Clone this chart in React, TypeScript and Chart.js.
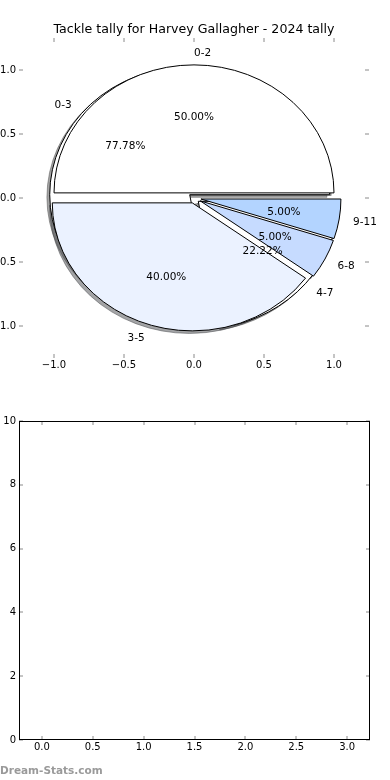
import React, { useEffect, useRef } from 'react';
import { Chart, registerables } from 'chart.js';

Chart.register(...registerables);

// ---- data ----
const TITLE = 'Tackle tally for Harvey Gallagher - 2024 tally';
const INNER_LABELS = ['0-3', '4-7'];
const INNER_VALUES = [77.78, 22.22];
const OUTER_LABELS = ['0-2', '3-5', '6-8', '9-11'];
const OUTER_VALUES = [50, 40, 5, 5];
const PIE_TICKS = [-1, -0.5, 0, 0.5, 1];
const EMPTY_X_TICKS = [0, 0.5, 1, 1.5, 2, 2.5, 3];
const EMPTY_Y_TICKS = [0, 2, 4, 6, 8, 10];
const WATERMARK = 'Dream-Stats.com';

// ---- styles ----
const INNER_STYLE = { colors: ['#ffffff', '#ffffff'], explode: [0.04, 0.04] };
const OUTER_STYLE = {
  colors: ['#ffffff', '#ebf2ff', '#c6dbff', '#b3d4ff'],
  explode: [0.04, 0.04, 0.05, 0.05],
};
const FONT = 'DejaVu Sans';

function shadowOf(hex: string) {
  const n = parseInt(hex.slice(1), 16);
  const r = ((n >> 16) & 255) * 0.3;
  const g = ((n >> 8) & 255) * 0.3;
  const b = (n & 255) * 0.3;
  return `rgba(${r.toFixed(0)},${g.toFixed(0)},${b.toFixed(0)},0.5)`;
}

const piePlugin = {
  id: 'pies',
  afterDatasetsDraw(chart: any, _args: any, opts: any) {
    const xs = chart.scales.x;
    const ys = chart.scales.y;
    const ctx: CanvasRenderingContext2D = chart.ctx;
    const X = (v: number) => xs.getPixelForValue(v);
    const Y = (v: number) => ys.getPixelForValue(v);
    const rx = X(1) - X(0);
    const ry = Y(0) - Y(1);
    const D = Math.PI / 180;

    const pies = (opts.pies || []).map((p: any) => {
      const total = p.values.reduce((a: number, b: number) => a + b, 0);
      let a = 0;
      return p.values.map((v: number, i: number) => {
        const t1 = a;
        const t2 = a + (360 * v) / total;
        a = t2;
        const mid = ((t1 + t2) / 2) * D;
        const e = p.explode[i];
        return {
          t1, t2, mid,
          cx: e * Math.cos(mid),
          cy: e * Math.sin(mid),
          color: p.colors[i],
          label: p.labels[i],
          pct: (100 * v) / total,
        };
      });
    });

    const path = (w: any, ox: number, oy: number) => {
      const px = X(w.cx + ox);
      const py = Y(w.cy + oy);
      ctx.beginPath();
      ctx.moveTo(px, py);
      ctx.ellipse(px, py, rx, ry, 0, -w.t1 * D, -w.t2 * D, true);
      ctx.closePath();
    };

    ctx.save();
    // shadows (below every wedge)
    pies.forEach((ws: any[]) =>
      ws.forEach((w) => {
        path(w, -0.02, -0.02);
        const c = shadowOf(w.color);
        ctx.fillStyle = c;
        ctx.fill();
        ctx.strokeStyle = c;
        ctx.lineWidth = 1;
        ctx.stroke();
      })
    );
    // wedges
    pies.forEach((ws: any[]) =>
      ws.forEach((w) => {
        path(w, 0, 0);
        ctx.fillStyle = w.color;
        ctx.fill();
        ctx.strokeStyle = '#000';
        ctx.lineWidth = 1;
        ctx.stroke();
      })
    );
    // texts
    ctx.fillStyle = '#000';
    ctx.font = `10.5px "${FONT}"`;
    ctx.textBaseline = 'middle';
    pies.forEach((ws: any[]) =>
      ws.forEach((w) => {
        const c = Math.cos(w.mid);
        const s = Math.sin(w.mid);
        ctx.textAlign = c > 0 ? 'left' : 'right';
        ctx.fillText(w.label, X(w.cx + 1.1 * c), Y(w.cy + 1.1 * s) + 1);
        ctx.textAlign = 'center';
        ctx.fillText(w.pct.toFixed(2) + '%', X(w.cx + 0.6 * c), Y(w.cy + 0.6 * s) + 1);
      })
    );
    ctx.restore();
  },
};

const decorPlugin = {
  id: 'decor',
  afterDraw(chart: any, _args: any, opts: any) {
    const ctx: CanvasRenderingContext2D = chart.ctx;
    const { left, right, top, bottom } = chart.chartArea;
    const xs = chart.scales.x;
    const ys = chart.scales.y;
    const L = 4;
    ctx.save();
    ctx.strokeStyle = '#8a8a8a';
    ctx.lineWidth = 1;
    ctx.beginPath();
    xs.ticks.forEach((t: any) => {
      const p = Math.round(xs.getPixelForValue(t.value));
      ctx.moveTo(p, bottom);
      ctx.lineTo(p, bottom - L);
      ctx.moveTo(p, top);
      ctx.lineTo(p, top + L);
    });
    ys.ticks.forEach((t: any) => {
      const p = Math.round(ys.getPixelForValue(t.value));
      ctx.moveTo(left, p);
      ctx.lineTo(left + L, p);
      ctx.moveTo(right, p);
      ctx.lineTo(right - L, p);
    });
    ctx.stroke();
    if (opts.frame) {
      ctx.strokeStyle = '#000';
      ctx.lineWidth = 1;
      ctx.strokeRect(left + 0.5, top + 0.5, right - left - 1, bottom - top - 1);
    }
    if (opts.title) {
      ctx.fillStyle = '#000';
      ctx.font = `12.6px "${FONT}"`;
      ctx.textAlign = 'center';
      ctx.textBaseline = 'middle';
      ctx.fillText(opts.title, (left + right) / 2, top - 8);
    }
    ctx.restore();
  },
};

const fmt1 = (v: number) => (v < 0 ? '\u2212' : '') + Math.abs(v).toFixed(1);

function axis(min: number, max: number, ticks: number[], fmt: (v: number) => string, isX: boolean) {
  return {
    type: 'linear',
    min,
    max,
    afterBuildTicks: (s: any) => {
      s.ticks = ticks.map((v) => ({ value: v }));
    },
    afterFit: (s: any) => {
      if (isX) s.height = 15;
      else s.width = 49;
    },
    grid: { display: false, drawTicks: false },
    border: { display: false },
    ticks: {
      color: '#000',
      font: { family: FONT, size: 10 },
      padding: isX ? 1 : 3,
      autoSkip: false,
      maxRotation: 0,
      callback: (v: number) => fmt(v),
    },
  };
}

export default function App() {
  const topRef = useRef<HTMLCanvasElement>(null);
  const botRef = useRef<HTMLCanvasElement>(null);

  useEffect(() => {
    const top = new Chart(topRef.current as HTMLCanvasElement, {
      type: 'scatter',
      data: { datasets: [] },
      plugins: [piePlugin, decorPlugin] as any,
      options: {
        animation: false,
        responsive: false,
        layout: { padding: { left: 0, right: 31, top: 38, bottom: 12 } },
        scales: {
          x: axis(-1.25, 1.25, PIE_TICKS, fmt1, true) as any,
          y: axis(-1.25, 1.25, PIE_TICKS, fmt1, false) as any,
        },
        plugins: {
          legend: { display: false },
          tooltip: { enabled: false },
          title: { display: false },
          pies: {
            pies: [
              { labels: INNER_LABELS, values: INNER_VALUES, ...INNER_STYLE },
              { labels: OUTER_LABELS, values: OUTER_VALUES, ...OUTER_STYLE },
            ],
          },
          decor: { frame: false, title: TITLE },
        } as any,
      },
    });

    const bot = new Chart(botRef.current as HTMLCanvasElement, {
      type: 'scatter',
      data: { datasets: [] },
      plugins: [decorPlugin] as any,
      options: {
        animation: false,
        responsive: false,
        layout: { padding: { left: 0, right: 30, top: 31, bottom: 25 } },
        scales: {
          x: axis(-0.225, 3.225, EMPTY_X_TICKS, fmt1, true) as any,
          y: axis(0, 10, EMPTY_Y_TICKS, (v) => String(v), false) as any,
        },
        plugins: {
          legend: { display: false },
          tooltip: { enabled: false },
          decor: { frame: true },
        } as any,
      },
    });

    return () => {
      top.destroy();
      bot.destroy();
    };
  }, []);

  return (
    <div
      style={{
        position: 'fixed',
        left: 0,
        top: 0,
        width: 390,
        height: 780,
        overflow: 'hidden',
        background: '#fff',
      }}
    >
      <canvas
        ref={topRef}
        width={430}
        height={385}
        style={{ position: 'absolute', left: -30, top: 0, width: 430, height: 385 }}
      />
      <canvas
        ref={botRef}
        width={430}
        height={390}
        style={{ position: 'absolute', left: -30, top: 390, width: 430, height: 390 }}
      />
      <div
        style={{
          position: 'absolute',
          left: 0,
          top: 763,
          font: `bold 10.5px "${FONT}"`,
          color: '#9a9a9a',
          lineHeight: '14px',
          whiteSpace: 'nowrap',
        }}
      >
        {WATERMARK}
      </div>
    </div>
  );
}
